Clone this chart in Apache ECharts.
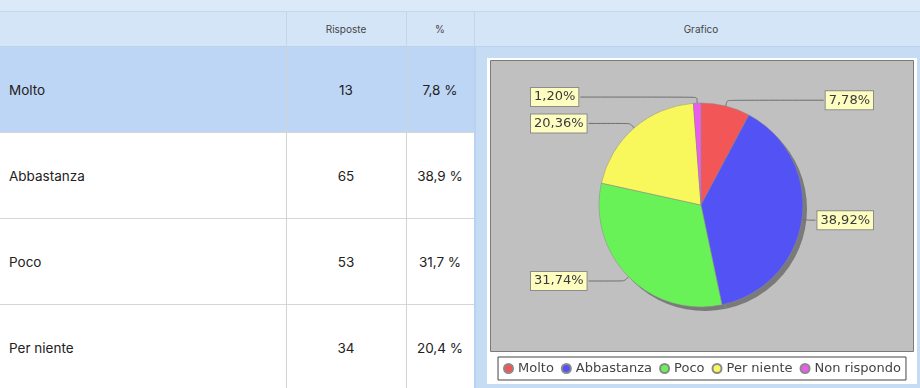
<!DOCTYPE html>
<html>
<head>
<meta charset="utf-8">
<script src="https://cdn.jsdelivr.net/npm/echarts@6/dist/echarts.min.js"></script>
<style>
  html, body { margin: 0; padding: 0; width: 920px; height: 388px; overflow: hidden; background: #ffffff; }
  #page { position: relative; width: 920px; height: 388px; overflow: hidden; font-family: Inter, "Liberation Sans", sans-serif; color: #222; }
  .strip { position: absolute; left: 0; top: 0; width: 920px; height: 11px; background: #dce9f8; border-bottom: 1px solid #c6d7ec; }
  .cell { position: absolute; box-sizing: border-box; display: flex; align-items: center; }
  .head { background: #d5e5f8; border-bottom: 1px solid #bdd1ea; font-size: 10px; color: #444; justify-content: center; }
  .body { border-bottom: 1px solid #d6d6d6; font-size: 13.5px; }
  .name { padding-left: 9px; }
  .num { justify-content: center; }
  .vline { position: absolute; width: 1px; }
  .graf { position: absolute; left: 474px; top: 47px; width: 454px; height: 341px; background: #c6dcf5; border-left: 2px solid #b9d2f1; box-sizing: border-box; }
  #chart { position: absolute; left: 487px; top: 58px; width: 430px; height: 326px; }
</style>
</head>
<body>
<div id="page">
  <div class="strip"></div>
  <div class="graf"></div>
  <div id="chart"></div>
</div>
<script>
// Survey answers and counts
const categories = ['Molto', 'Abbastanza', 'Poco', 'Per niente', 'Non rispondo'];
const responses = [13, 65, 53, 34, 2];
const sliceColors = ['#f25656', '#5353f5', '#68f258', '#f8f85c', '#ec5cec'];
const headers = ['', 'Risposte', '%', 'Grafico'];

// Column edges of the table
const colX = [0, 286, 406, 474, 928];
const headTop = 12, headH = 35, rowTop = 47, rowH = 86;

const page = document.getElementById('page');
const total = responses.reduce((a, b) => a + b, 0);

function addCell(cls, x, y, w, h, text, bg) {
  const d = document.createElement('div');
  d.className = 'cell ' + cls;
  d.style.left = x + 'px'; d.style.top = y + 'px';
  d.style.width = w + 'px'; d.style.height = h + 'px';
  if (bg) d.style.background = bg;
  d.textContent = text;
  page.insertBefore(d, page.querySelector('.graf'));
  return d;
}

// header row
headers.forEach((h, i) => addCell('head', colX[i], headTop, colX[i + 1] - colX[i], headH, h));

// body rows (the chart column is drawn separately)
categories.forEach((c, r) => {
  const y = rowTop + r * rowH;
  const bg = r === 0 ? '#bed6f5' : '#ffffff';
  const pct = (responses[r] / total * 100).toFixed(1).replace('.', ',') + ' %';
  addCell('body name', colX[0], y, colX[1] - colX[0], rowH, c, bg);
  addCell('body num', colX[1], y, colX[2] - colX[1], rowH, String(responses[r]), bg);
  addCell('body num', colX[2], y, colX[3] - colX[2], rowH, pct, bg);
});

// vertical separators
[colX[1], colX[2]].forEach(x => {
  const h = document.createElement('div');
  h.className = 'vline';
  h.style.left = x + 'px'; h.style.top = headTop + 'px'; h.style.height = headH + 'px';
  h.style.background = '#c4d5ea';
  page.appendChild(h);
  const b = document.createElement('div');
  b.className = 'vline';
  b.style.left = x + 'px'; b.style.top = rowTop + 'px'; b.style.height = (388 - rowTop) + 'px';
  b.style.background = '#d2d2d2';
  page.appendChild(b);
});
const hv = document.createElement('div');
hv.className = 'vline';
hv.style.left = colX[3] + 'px'; hv.style.top = headTop + 'px'; hv.style.height = headH + 'px';
hv.style.background = '#c4d5ea';
page.appendChild(hv);

// pie chart
const chart = echarts.init(document.getElementById('chart'), null, { renderer: 'canvas' });
const pieData = categories.map((c, i) => ({ name: c, value: responses[i], itemStyle: { color: sliceColors[i] } }));

chart.setOption({
  animation: false,
  backgroundColor: '#ffffff',
  graphic: [{
    type: 'rect', left: 3, top: 2, silent: true, z: -10,
    shape: { width: 423, height: 291 },
    style: { fill: '#c0c0c0', stroke: '#7a7a7a', lineWidth: 1 }
  }],
  legend: {
    data: categories,
    left: 'center', top: 299,
    icon: 'circle', itemWidth: 9, itemHeight: 9, itemGap: 7,
    padding: [5, 5, 5, 5],
    backgroundColor: '#ffffff', borderColor: '#444444', borderWidth: 1,
    textStyle: { fontFamily: 'DejaVu Sans', fontSize: 13, color: '#444' }
  },
  series: [
    {
      type: 'pie', name: 'Risposte',
      left: 0, top: 0, right: 0, bottom: 0,
      center: [214, 147], radius: 102,
      startAngle: 90, clockwise: true,
      data: pieData,
      z: 3,
      itemStyle: { borderColor: '#8a8a8a', borderWidth: 0.5 },
      emphasis: { disabled: true },
      label: {
        show: true, position: 'outside', alignTo: 'edge', edgeDistance: 44,
        distanceToLabelLine: 0, overflow: 'none',
        formatter: p => p.percent.toFixed(2).replace('.', ',') + '%',
        backgroundColor: '#fdfdc0', borderColor: '#8c8c8c', borderWidth: 1,
        padding: [2, 3, 1, 3],
        color: '#3a3a3a', fontFamily: 'DejaVu Sans', fontSize: 13, lineHeight: 15
      },
      labelLine: { show: true, length: 6, length2: 0, smooth: 0.25, lineStyle: { color: '#6e6e6e', width: 1 } }
    },
    {
      // drop shadow under the pie
      type: 'pie', name: 'ombra', silent: true,
      left: 0, top: 0, right: 0, bottom: 0,
      center: [218, 151], radius: 102,
      startAngle: 90, clockwise: true,
      data: categories.map((c, i) => ({ name: c, value: responses[i] })),
      z: 2,
      itemStyle: { color: '#7a7a7a' },
      label: { show: false }, labelLine: { show: false },
      emphasis: { disabled: true }
    }
  ]
});
</script>
</body>
</html>
